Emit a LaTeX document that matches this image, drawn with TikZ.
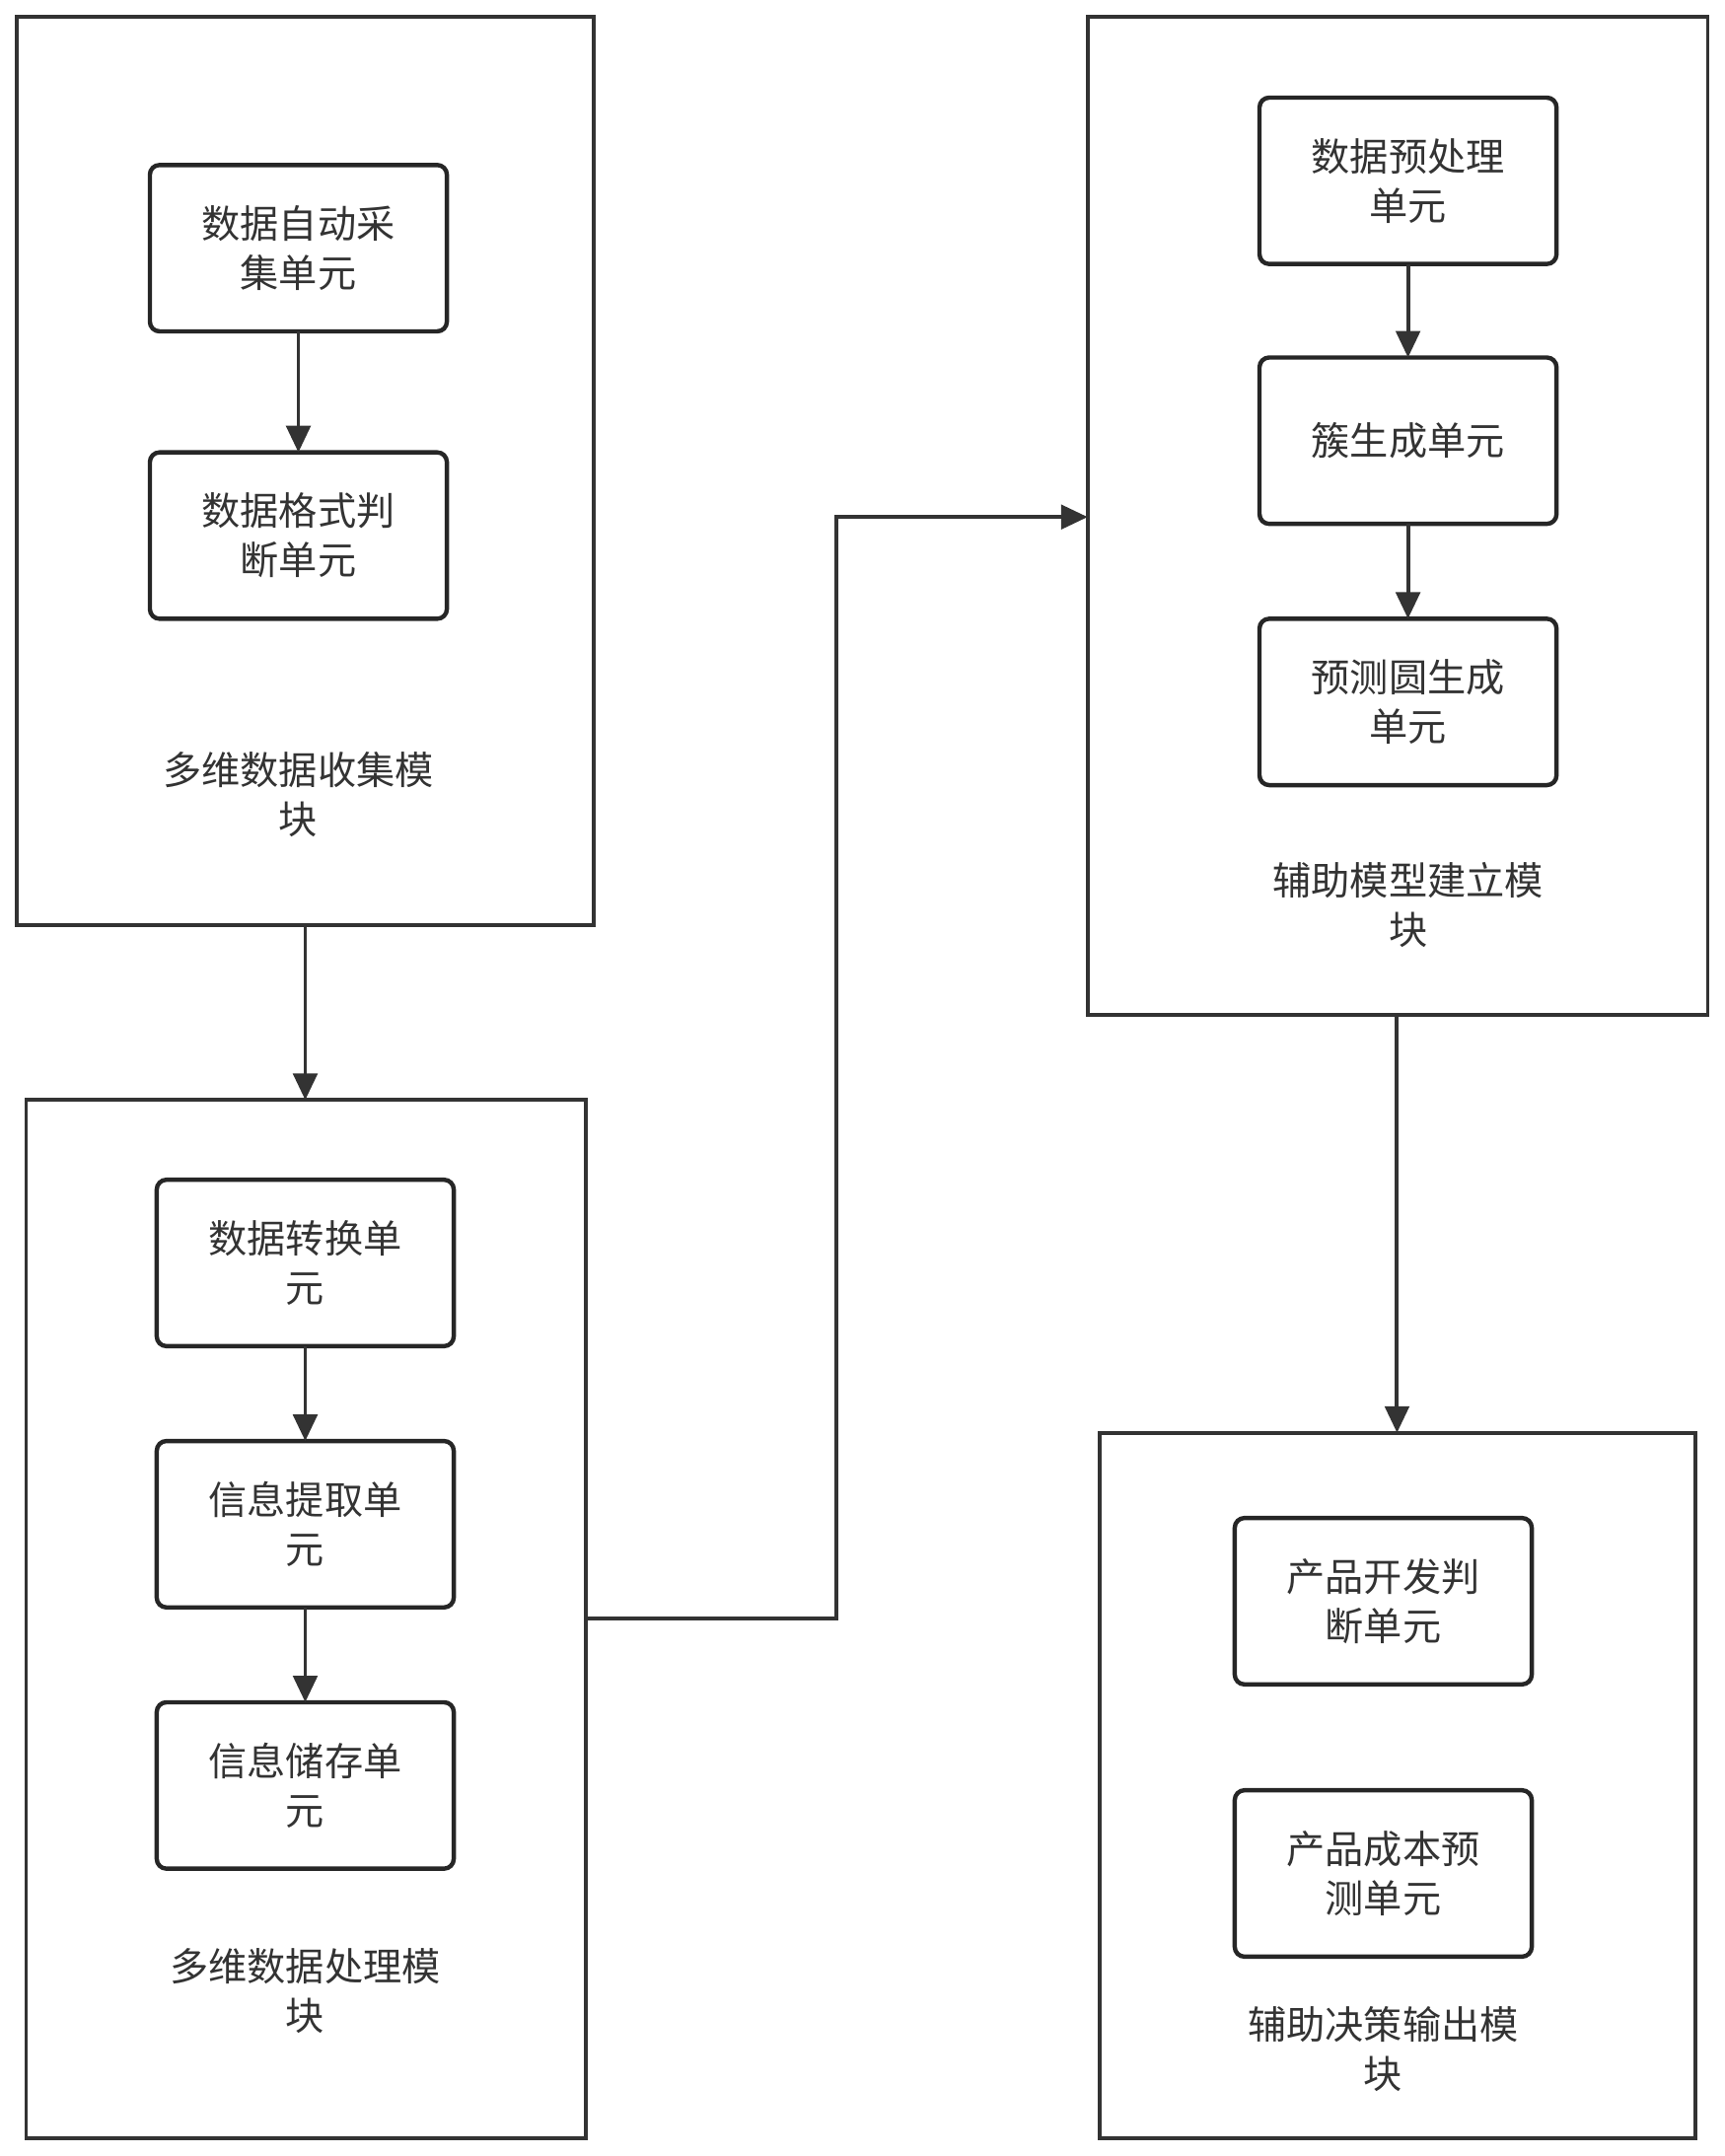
\documentclass[tikz,border=0pt]{standalone}
\usepackage{fontspec}
\setmainfont{Noto Sans CJK SC}
\usetikzlibrary{arrows.meta}
\begin{document}
\begin{tikzpicture}[x=0.02cm,y=-0.02cm,
  mod/.style={draw=black!80,line width=1.6pt},
  unit/.style={draw=black!85,line width=1.8pt,rounded corners=4pt},
  txt/.style={align=center,font=\fontsize{16}{20.5}\selectfont,text=black!80},
  arr/.style={draw=black!80,line width=1.6pt,-{Triangle[length=11pt,width=10pt]}}]
\useasboundingbox (0,0) rectangle (1254,1568);
% modules
\draw[mod] (12,12) rectangle (432,673); \coordinate (m1b) at (222,673);
\draw[mod] (19,800) rectangle (426,1555); \coordinate (m2t) at (222,800); \coordinate (m2r) at (426,1177);
\draw[mod] (791,12) rectangle (1242,738); \coordinate (m3l) at (791,376); \coordinate (m3b) at (1016,738);
\draw[mod] (800,1042) rectangle (1233,1555); \coordinate (m4t) at (1016,1042);
% units
\draw[unit] (109,120) rectangle (325,241) node[midway,txt] (a1) {数据自动采\\集单元};
\draw[unit] (109,329) rectangle (325,450) node[midway,txt] (a2) {数据格式判\\断单元};
\node[txt] (l1) at (217,578) {多维数据收集模\\块};
\draw[unit] (114,858) rectangle (330,979) node[midway,txt] (b1) {数据转换单\\元};
\draw[unit] (114,1048) rectangle (330,1169) node[midway,txt] (b2) {信息提取单\\元};
\draw[unit] (114,1238) rectangle (330,1359) node[midway,txt] (b3) {信息储存单\\元};
\node[txt] (l2) at (222,1448) {多维数据处理模\\块};
\draw[unit] (916,71) rectangle (1132,192) node[midway,txt] (c1) {数据预处理\\单元};
\draw[unit] (916,260) rectangle (1132,381) node[midway,txt] (c2) {簇生成单元};
\draw[unit] (916,450) rectangle (1132,571) node[midway,txt] (c3) {预测圆生成\\单元};
\node[txt] (l3) at (1024,658) {辅助模型建立模\\块};
\draw[unit] (898,1104) rectangle (1114,1225) node[midway,txt] (d1) {产品开发判\\断单元};
\draw[unit] (898,1302) rectangle (1114,1423) node[midway,txt] (d2) {产品成本预\\测单元};
\node[txt] (l4) at (1006,1490) {辅助决策输出模\\块};
% unit arrows
\draw[arr] (217,241) -- (217,329);
\draw[arr] (222,979) -- (222,1048);
\draw[arr] (222,1169) -- (222,1238);
\draw[arr] (1024,192) -- (1024,260);
\draw[arr] (1024,381) -- (1024,450);
% module arrows
\draw[arr] (m1b) -- (m2t);
\draw[arr] (m3b) -- (m4t);
\draw[arr] (m2r) -- (608,1177) -- (608,376) -- (m3l);
\end{tikzpicture}
\end{document}
